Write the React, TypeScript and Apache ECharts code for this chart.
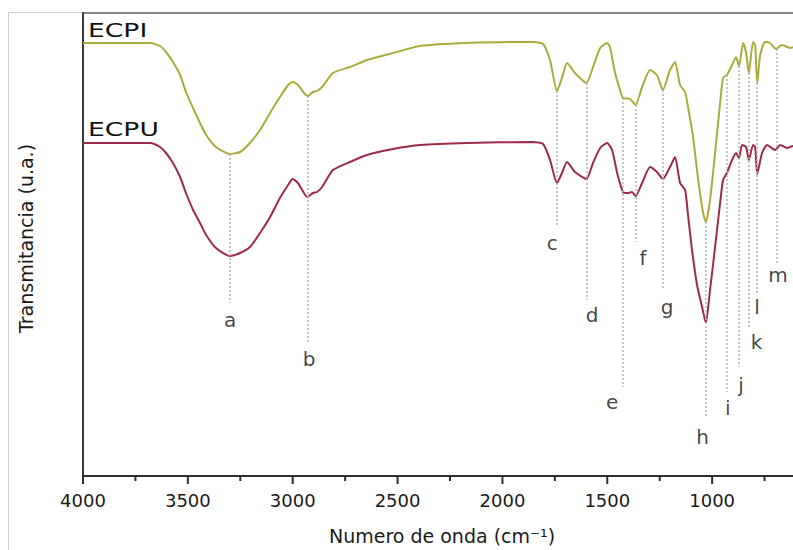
import React, { useEffect, useRef } from "react";
import * as echarts from "echarts";

// ECPI spectrum (wavenumber cm-1, transmittance in arbitrary units)
const ecpiWavenumber = [
  4000, 3680, 3633, 3604, 3571, 3537, 3509, 3475, 3442, 3413, 3366, 3300, 3251, 3204, 3156, 3108, 3061, 3022, 3000, 2975,
  2930, 2903, 2884, 2860, 2808, 2727, 2646, 2522, 2393, 2169, 1854, 1806, 1773, 1740, 1716, 1692, 1654, 1600, 1568, 1534,
  1501, 1487, 1463, 1439, 1425, 1391, 1365, 1334, 1296, 1263, 1235, 1201, 1177, 1153, 1129, 1115, 1091, 1067, 1043, 1030,
  1010, 986, 962, 948, 930, 905, 886, 872, 852, 838, 825, 805, 795, 785, 771, 748, 724, 695, 667, 628, 600,
];
const ecpiTransmittance = [
  433, 433, 430, 424, 414, 401, 384, 368, 353, 341, 329, 322, 324, 333, 346, 363, 379, 391, 394, 391,
  380, 384, 385, 389, 403, 409, 416, 423, 430, 433, 434, 432, 416, 385, 398, 413, 403, 393, 409, 428,
  433, 429, 403, 386, 378, 377, 371, 389, 406, 401, 386, 406, 414, 391, 384, 369, 339, 297, 263, 254,
  276, 323, 373, 398, 401, 411, 419, 410, 433, 423, 403, 434, 431, 393, 421, 434, 433, 427, 431, 428, 430,
];

// ECPU spectrum
const ecpuWavenumber = [
  4000, 3680, 3633, 3604, 3571, 3537, 3509, 3475, 3442, 3413, 3366, 3300, 3251, 3204, 3156, 3108, 3061, 3022, 3000, 2975,
  2930, 2903, 2884, 2860, 2808, 2727, 2646, 2522, 2393, 2169, 1854, 1806, 1773, 1740, 1716, 1692, 1654, 1600, 1568, 1534,
  1501, 1477, 1453, 1425, 1401, 1382, 1365, 1334, 1296, 1263, 1235, 1201, 1177, 1153, 1129, 1115, 1096, 1072, 1048, 1030,
  1010, 986, 962, 948, 930, 905, 886, 872, 857, 838, 825, 805, 795, 785, 762, 738, 700, 676, 643, 614, 600,
];
const ecpuTransmittance = [
  333, 333, 329, 323, 313, 299, 283, 266, 253, 241, 228, 220, 223, 229, 243, 259, 278, 291, 297, 293,
  279, 283, 284, 289, 306, 314, 321, 327, 331, 333, 334, 332, 316, 293, 303, 314, 304, 297, 313, 328,
  333, 326, 303, 284, 283, 284, 280, 293, 309, 304, 297, 309, 319, 293, 286, 261, 226, 191, 169, 153,
  186, 229, 273, 296, 303, 316, 323, 318, 331, 329, 316, 331, 329, 302, 323, 331, 326, 331, 328, 330, 330,
];

// Band markers
const peakLetters = ["a", "b", "c", "d", "e", "f", "g", "h", "i", "j", "k", "l", "m"];
const peakWavenumber = [3300, 2930, 1740, 1600, 1425, 1365, 1235, 1030, 930, 872, 825, 785, 690];
const dropTop = [322, 380, 385, 393, 378, 371, 386, 254, 401, 410, 403, 393, 427];
const dropBottom = [173, 134, 249, 176, 89, 234, 188, 58, 84, 109, 149, 183, 213];
const labelWavenumber = [3299, 2922, 1763, 1573, 1477, 1330, 1215, 1046, 926, 862, 788, 786, 686];
const labelValue = [156, 117, 233, 161, 74, 218, 169, 39, 68, 91, 134, 169, 201];

const xTicks = { min: 500, max: 4000, interval: 500 };

const FONT = "DejaVu Sans";
const AXIS_COLOR = "#2e2e2e";

export default function App() {
  const ref = useRef<HTMLDivElement>(null);

  useEffect(() => {
    const chart = echarts.init(ref.current as HTMLDivElement, null, { renderer: "svg" });
    const pairs = (xs: number[], ys: number[]) => xs.map((x, i) => [x, ys[i]]);

    // major + minor tick values (minor tick half-way between labelled ticks)
    const tickValues: number[][] = [];
    for (let v = xTicks.max; v >= xTicks.min; v -= xTicks.interval / 2) tickValues.push([v, 0]);

    chart.setOption({
      animation: false,
      backgroundColor: "#ffffff",
      grid: {
        left: 83,
        top: 13,
        right: 0,
        bottom: 74,
        show: true,
        borderColor: "#8a8a8a",
        borderWidth: 2,
        outerBoundsMode: "none",
        containLabel: false,
      },
      xAxis: {
        type: "value",
        inverse: true,
        min: xTicks.min,
        max: xTicks.max,
        interval: xTicks.interval,
        axisLine: { show: true, onZero: false, lineStyle: { color: AXIS_COLOR, width: 2 } },
        axisTick: { show: false },
        splitLine: { show: false },
        axisLabel: {
          fontSize: 18,
          fontFamily: FONT,
          color: "#1a1a1a",
          margin: 15,
          showMinLabel: false,
          formatter: (v: number) => String(v),
        },
        name: "Numero de onda (cm⁻¹)",
        nameLocation: "middle",
        nameGap: 50,
        nameTextStyle: { fontSize: 19, fontFamily: FONT, color: "#1a1a1a", padding: [0, 16, 0, 0] },
      },
      yAxis: {
        type: "value",
        min: 0,
        max: 463,
        axisLine: { show: true, lineStyle: { color: "#3a3a3a", width: 2 } },
        axisTick: { show: false },
        axisLabel: { show: false },
        splitLine: { show: false },
        name: "Transmitancia (u.a.)",
        nameLocation: "middle",
        nameGap: 48,
        nameTextStyle: { fontSize: 19, fontFamily: FONT, color: "#1a1a1a", padding: [0, 0, 0, 12] },
      },
      graphic: [
        {
          type: "rect",
          z: -10,
          shape: { x: 8.5, y: 12.5, width: 900, height: 700 },
          style: { fill: "none", stroke: "#cfcfcf", lineWidth: 1 },
        },
        {
          type: "text",
          x: 88,
          y: 30.5,
          scaleX: 1.33,
          style: {
            text: "ECPI",
            fontSize: 20,
            fontFamily: FONT,
            fill: "#111",
            verticalAlign: "middle",
            textVerticalAlign: "middle",
          },
        },
        {
          type: "text",
          x: 88,
          y: 129.5,
          scaleX: 1.33,
          style: {
            text: "ECPU",
            fontSize: 20,
            fontFamily: FONT,
            fill: "#111",
            verticalAlign: "middle",
            textVerticalAlign: "middle",
          },
        },
      ],
      series: [
        {
          type: "custom",
          name: "ticks",
          silent: true,
          clip: false,
          z: 5,
          data: tickValues,
          renderItem: (params: any, api: any) => {
            const v = api.value(0);
            const p = api.coord([v, 0]);
            const len = v % xTicks.interval === 0 ? 8 : 5;
            return {
              type: "line",
              shape: { x1: p[0], y1: p[1], x2: p[0], y2: p[1] + len },
              style: { stroke: AXIS_COLOR, lineWidth: 2 },
            };
          },
        },
        {
          type: "scatter",
          name: "bands",
          symbolSize: 1,
          itemStyle: { color: "rgba(0,0,0,0)" },
          z: 1,
          data: peakLetters.map((l, i) => ({ name: l, value: [labelWavenumber[i], labelValue[i]] })),
          label: {
            show: true,
            position: "inside",
            formatter: "{b}",
            fontSize: 20,
            fontFamily: FONT,
            color: "#111",
          },
          markLine: {
            silent: true,
            symbol: ["none", "none"],
            animation: false,
            label: { show: false },
            lineStyle: { color: "#b3b3b3", type: [2, 2], width: 1.5 },
            data: peakWavenumber.map((w, i) => [
              { coord: [w, dropTop[i]] },
              { coord: [w, dropBottom[i]] },
            ]),
          },
        },
        {
          type: "line",
          name: "ECPI",
          data: pairs(ecpiWavenumber, ecpiTransmittance),
          showSymbol: false,
          smooth: 0.2,
          z: 3,
          lineStyle: { color: "#a9ab3b", width: 2 },
          itemStyle: { color: "#a9ab3b" },
        },
        {
          type: "line",
          name: "ECPU",
          data: pairs(ecpuWavenumber, ecpuTransmittance),
          showSymbol: false,
          smooth: 0.2,
          z: 3,
          lineStyle: { color: "#9d2b47", width: 2 },
          itemStyle: { color: "#9d2b47" },
        },
      ],
    });

    return () => chart.dispose();
  }, []);

  return (
    <div
      style={{
        position: "fixed",
        left: 0,
        top: 0,
        width: 793,
        height: 550,
        overflow: "hidden",
        background: "#fff",
      }}
    >
      <div ref={ref} style={{ width: 817, height: 550 }} />
    </div>
  );
}
